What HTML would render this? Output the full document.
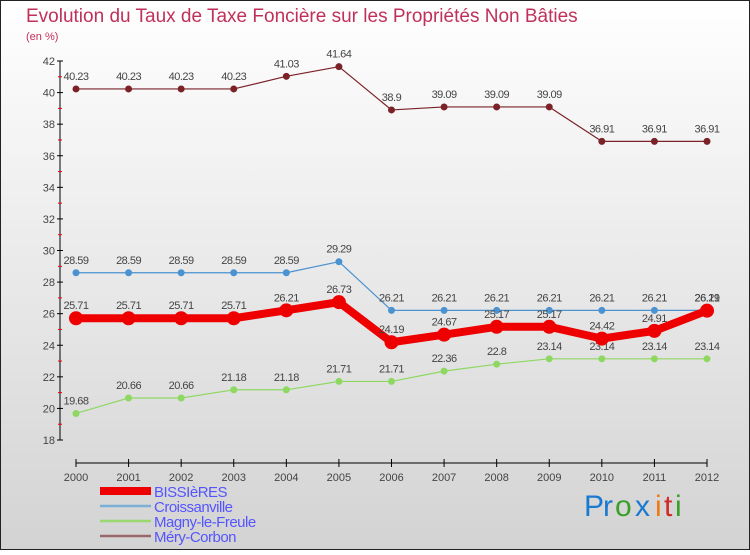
<!DOCTYPE html>
<html><head><meta charset="utf-8"><style>
html,body{margin:0;padding:0}
body{width:750px;height:550px;overflow:hidden;font-family:"Liberation Sans",sans-serif}
svg text{font-family:"Liberation Sans",sans-serif}
</style></head><body>
<svg id="c" width="750" height="550" xmlns="http://www.w3.org/2000/svg">
<defs><linearGradient id="bg" x1="0" y1="0" x2="0" y2="1"><stop offset="0" stop-color="#ffffff"/><stop offset="1" stop-color="#d3d3d3"/></linearGradient></defs>
<rect x="0.5" y="0.5" width="749" height="549" fill="url(#bg)" stroke="#222"/>
<text x="26" y="22" font-size="19" fill="#c0305a">Evolution du Taux de Taxe Foncière sur les Propriétés Non Bâties</text>
<text x="26" y="40" font-size="11" fill="#c0305a">(en %)</text>
<g id="axes"></g><g id="series"></g><g id="legend"></g>
<g font-size="30" font-family="Liberation Sans">
<text x="584" y="516" fill="#1a7ad0">P</text><text x="603" y="516" fill="#1a7ad0">r</text><text x="615" y="516" fill="#3aa02a">o</text><text x="635" y="516" fill="#1a7ad0">x</text><text x="655" y="516" fill="#f07a10">i</text><text x="664" y="516" fill="#d02a2a">t</text><text x="675" y="516" fill="#3aa02a">i</text></g>
</svg>
<script>
const years=[2000,2001,2002,2003,2004,2005,2006,2007,2008,2009,2010,2011,2012];
const bissieres=[25.71,25.71,25.71,25.71,26.21,26.73,24.19,24.67,25.17,25.17,24.42,24.91,26.19];
const croissanville=[28.59,28.59,28.59,28.59,28.59,29.29,26.21,26.21,26.21,26.21,26.21,26.21,26.21];
const magny=[19.68,20.66,20.66,21.18,21.18,21.71,21.71,22.36,22.8,23.14,23.14,23.14,23.14];
const mery=[40.23,40.23,40.23,40.23,41.03,41.64,38.9,39.09,39.09,39.09,36.91,36.91,36.91];
const yTicks=[18,20,22,24,26,28,30,32,34,36,38,40,42];
const NS='http://www.w3.org/2000/svg';
const x=i=>76+i*(707-76)/(years.length-1);
const y=v=>440-(v-18)*(440-61)/24;
function mk(tag,attrs,parent,txt){const e=document.createElementNS(NS,tag);for(const k in attrs)e.setAttribute(k,attrs[k]);if(txt!==undefined)e.textContent=txt;parent.appendChild(e);return e;}
const ax=document.getElementById('axes');
let e=mk('line',{x1:60,y1:y(42),x2:60,y2:y(18),stroke:'#000','stroke-width':1},ax);


yTicks.forEach(v=>{
 mk('line',{x1:57,y1:y(v),x2:63,y2:y(v),stroke:'#000'},ax);
 if(v<42) mk('line',{x1:58,y1:y(v+1),x2:62,y2:y(v+1),stroke:'#e00'},ax);
 const t=mk('text',{x:55,y:y(v)+4,'font-size':11,'text-anchor':'end',fill:'#444'},ax,String(v));
 
 
});
e=mk('line',{x1:76,y1:463,x2:707,y2:463,stroke:'#000'},ax);


years.forEach((yr,i)=>{
 mk('line',{x1:x(i),y1:459,x2:x(i),y2:467,stroke:'#000'},ax);
 const t=mk('text',{x:x(i),y:481,'font-size':11,'text-anchor':'middle',fill:'#444'},ax,String(yr));
 
 
});
const sg=document.getElementById('series');
const series=[
 {name:'mery-corbon',data:mery,color:'#7a2228',w:1.2,r:3.5},
 {name:'magny-le-freule',data:magny,color:'#8ed862',w:1.2,r:3.5},
 {name:'croissanville',data:croissanville,color:'#4a92d0',w:1.2,r:3.5},
 {name:'bissieres',data:bissieres,color:'#ee0000',w:8,r:7}];
series.forEach(s=>{
 const g=mk('g',{},sg);
 
 
 const p=mk('polyline',{points:s.data.map((v,i)=>x(i)+','+y(v)).join(' '),fill:'none',stroke:s.color,'stroke-width':s.w,'stroke-linejoin':'round'},g);
 
 
 s.data.forEach((v,i)=>{
  const c=mk('circle',{cx:x(i),cy:y(v),r:s.r,fill:s.color},g);
  
  
  const t=mk('text',{x:x(i),y:y(v)-9,'font-size':11,'text-anchor':'middle',fill:'#444','letter-spacing':'-0.5'},g,String(v));
  
  
 });
});
const lg=document.getElementById('legend');
const leg=[['BISSIèRES','#ee0000',8],['Croissanville','#7ab0d8',2.5],['Magny-le-Freule','#9ad870',2.5],['Méry-Corbon','#9a6868',2.5]];
leg.forEach((l,i)=>{
 const yy=491+i*15;
 const g=mk('g',{},lg);
 
 
 mk('line',{x1:100,y1:yy,x2:151,y2:yy,stroke:l[1],'stroke-width':l[2]},g);
 mk('text',{x:154,y:yy+6,'font-size':15,fill:'#5555ff','letter-spacing':'-0.5'},g,l[0]);
});
</script>
</body></html>
